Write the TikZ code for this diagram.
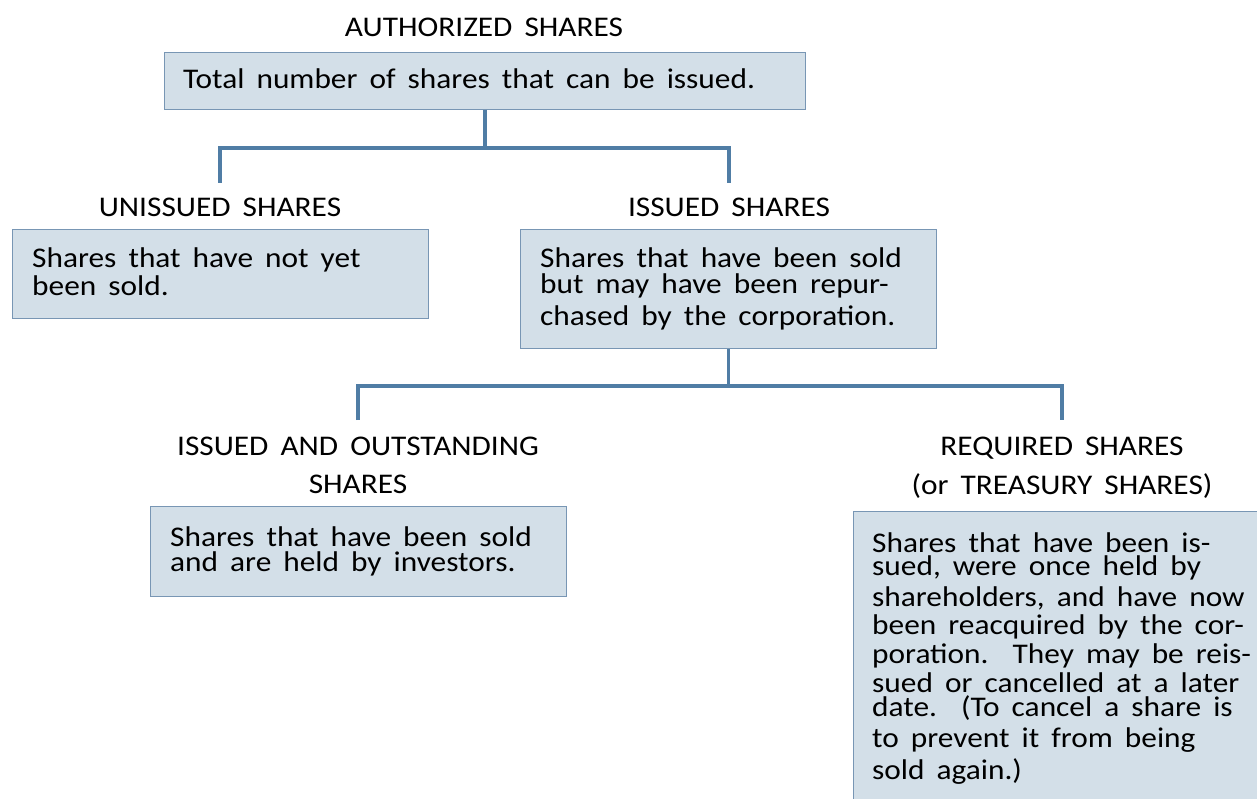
\documentclass[tikz,border=0pt]{standalone}
\usepackage{fontspec}
\setmainfont{Carlito}[FakeStretch=1.1, WordSpace=1.7]
\definecolor{boxfill}{RGB}{211,223,232}
\definecolor{boxline}{RGB}{120,150,180}
\definecolor{conncol}{RGB}{80,125,165}
\begin{document}
\begin{tikzpicture}[x=1pt,y=-1pt,
  box/.style={draw=boxline, line width=1pt, fill=boxfill, inner sep=0pt, anchor=north west},
  lbl/.style={font=\fontsize{28.5}{30}\selectfont, anchor=base, inner sep=0pt},
  txt/.style={font=\fontsize{28.5}{30}\selectfont, anchor=base west, inner sep=0pt},
  link/.style={draw=conncol, line width=3.5pt}]
\useasboundingbox (0,0) rectangle (1257,799);
\begin{scope}
\clip (0,0) rectangle (1257,799);
% boxes
\node[box, minimum width=641pt, minimum height=57pt] (top) at (164,52) {};
\node[box, minimum width=416pt, minimum height=89pt] (un) at (12,229) {};
\node[box, minimum width=416pt, minimum height=119pt] (is) at (520,229) {};
\node[box, minimum width=416pt, minimum height=90pt] (out) at (150,506) {};
\node[box, minimum width=420pt, minimum height=300pt] (req) at (853,511) {};
\end{scope}
% labels
\node[lbl] (lauth) at (484,37) {AUTHORIZED SHARES};
\node[lbl] (lun) at (220,217) {UNISSUED SHARES};
\node[lbl] (lis) at (729,217) {ISSUED SHARES};
\node[lbl] (lout1) at (358,455) {ISSUED AND OUTSTANDING};
\node[lbl] (lout2) at (358,493) {SHARES};
\node[lbl] (lreq1) at (1062,455) {REQUIRED SHARES};
\node[lbl] (lreq2) at (1062,494) {(or TREASURY SHARES)};
% box texts
\node[txt] (t1) at (183,89) {Total number of shares that can be issued.};
\node[txt] (u1) at (32,268) {Shares that have not yet};
\node[txt] (u2) at (32,296) {been sold.};
\node[txt] (i1) at (540,268) {Shares that have been sold};
\node[txt] (i2) at (540,294) {but may have been repur-};
\node[txt] (i3) at (540,325) {chased by the corporation.};
\node[txt] (o1) at (170,546) {Shares that have been sold};
\node[txt] (o2) at (170,571) {and are held by investors.};
\node[txt] (r1) at (872,552) {Shares that have been is-};
\node[txt] (r2) at (872,575) {sued, were once held by};
\node[txt] (r3) at (872,606) {shareholders, and have now};
\node[txt] (r4) at (872,634) {been reacquired by the cor-};
\node[txt] (r5) at (872,663) {poration.\ \ They may be reis-};
\node[txt] (r6) at (872,692) {sued or cancelled at a later};
\node[txt] (r7) at (872,716) {date.\ \ (To cancel a share is};
\node[txt] (r8) at (872,747) {to prevent it from being};
\node[txt] (r9) at (872,779) {sold again.)};
% connectors
\coordinate (b1) at (220,183);
\coordinate (b2) at (729,183);
\coordinate (c1) at (358,420);
\coordinate (c2) at (1062,420);
\draw[link] (top.south) -- ++(0,38) coordinate (j1);
\draw[link] (b1) |- (j1) -| (b2);
\draw[link] (is.south) -- ++(0,37) coordinate (j2);
\draw[link] (c1) |- (j2) -| (c2);
\end{tikzpicture}
\end{document}
